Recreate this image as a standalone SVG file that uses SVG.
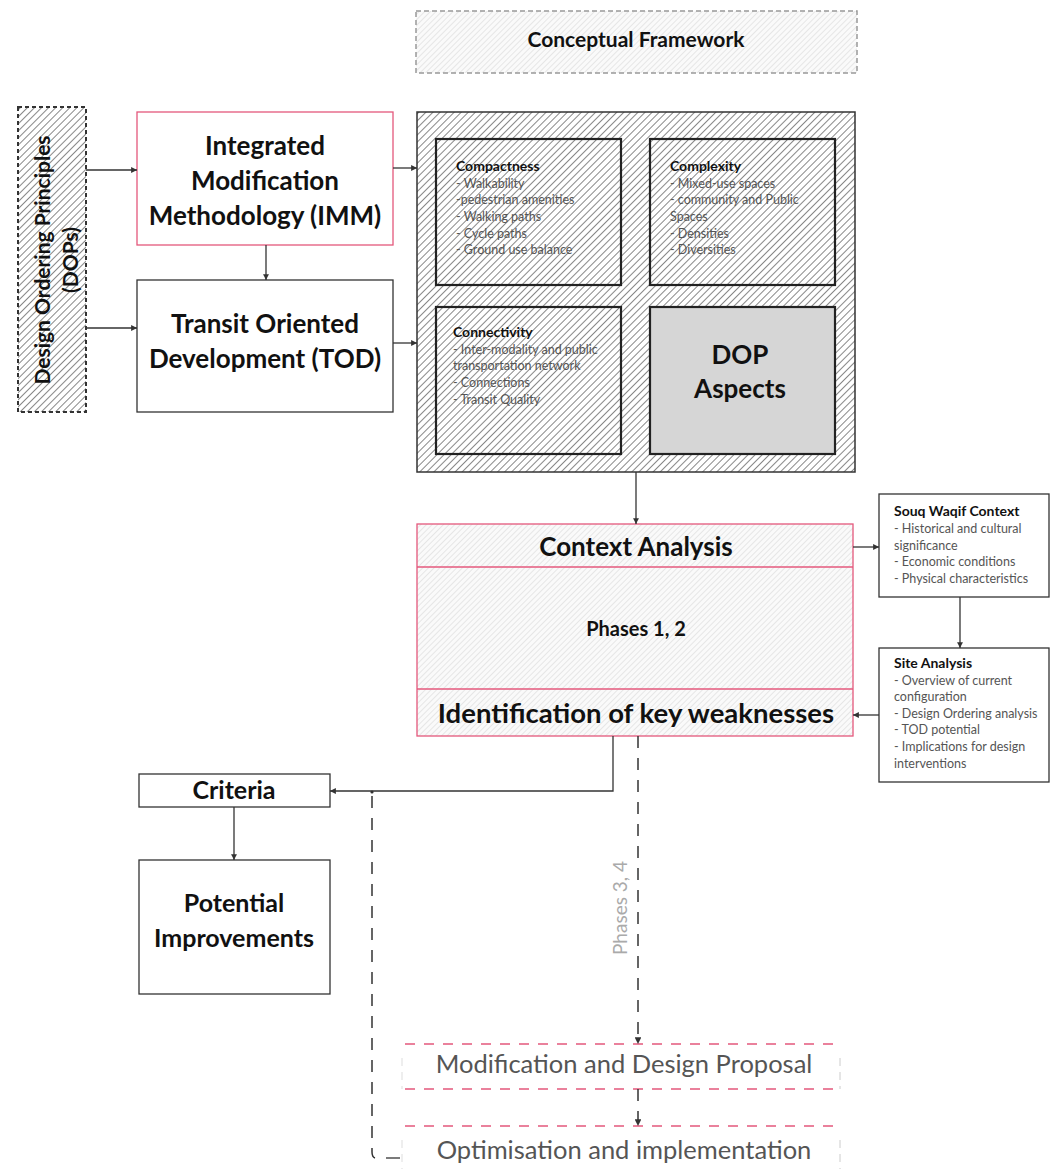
<svg xmlns="http://www.w3.org/2000/svg" width="1053" height="1169" viewBox="0 0 1053 1169">
<defs>
<pattern id="hatchDark" width="5" height="5" patternUnits="userSpaceOnUse" patternTransform="rotate(45)">
<rect width="5" height="5" fill="#fff"/>
<line x1="0" y1="0" x2="0" y2="5" stroke="#555" stroke-width="1.4"/>
</pattern>
<pattern id="hatchLight" width="4" height="4" patternUnits="userSpaceOnUse" patternTransform="rotate(45)">
<rect width="4" height="4" fill="#fafafa"/>
<line x1="0" y1="0" x2="0" y2="4" stroke="#d2d2d2" stroke-width="1"/>
</pattern>
<marker id="ah" viewBox="0 0 6 6" refX="6" refY="3" markerWidth="4.5" markerHeight="4.5" orient="auto">
<path d="M0,0 L6,3 L0,6 z" fill="#333"/>
</marker>
</defs>
<style>
.box{fill:#fff;stroke:#333;stroke-width:1.3}
.pink{fill:#fff;stroke:#e4587c;stroke-width:1.3}
.inner{fill:url(#hatchDark);stroke:#222;stroke-width:2.2}
.big{font-family:Lato,"Open Sans",sans-serif;font-weight:700;fill:#111;text-anchor:middle}
.ttl{font-family:Lato,"Open Sans",sans-serif;font-weight:700;fill:#111;font-size:14px}
.itm{font-family:Lato,"Open Sans",sans-serif;fill:#555;font-size:12.5px}
.con{fill:none;stroke:#333;stroke-width:1.3}
.dash{fill:none;stroke:#333;stroke-width:1.5;stroke-dasharray:12 10}
.gray{font-family:Lato,"Open Sans",sans-serif;fill:#555;font-size:25.5px;text-anchor:middle}
</style>
<rect width="1053" height="1169" fill="#fff"/>

<g id="conceptual-framework">
<rect x="416" y="11" width="441" height="62" fill="url(#hatchLight)" stroke="#999" stroke-width="1.5" stroke-dasharray="5 3"/>
<text class="big" x="636" y="47" font-size="21">Conceptual Framework</text>
</g>

<g id="dops">
<rect x="18" y="107" width="68" height="305" fill="url(#hatchDark)" stroke="#333" stroke-width="2" stroke-dasharray="4 3"/>
<text class="big" font-size="21" transform="translate(50,260) rotate(-90)">Design Ordering Principles</text>
<text class="big" font-size="21" transform="translate(78,260) rotate(-90)">(DOPs)</text>
</g>

<g id="imm">
<rect class="pink" x="137" y="112" width="256" height="133"/>
<text class="big" x="265" y="155" font-size="26">Integrated</text>
<text class="big" x="265" y="190" font-size="26">Modification</text>
<text class="big" x="265" y="225" font-size="26">Methodology (IMM)</text>
</g>

<g id="tod">
<rect class="box" x="137" y="280" width="256" height="132"/>
<text class="big" x="265" y="333" font-size="26">Transit Oriented</text>
<text class="big" x="265" y="368" font-size="26">Development (TOD)</text>
</g>

<g id="dop-aspects-frame">
<rect x="417" y="112" width="438" height="360" fill="url(#hatchDark)" stroke="#333" stroke-width="1.5"/>
</g>

<g id="compactness">
<rect class="inner" x="436" y="139" width="185" height="146"/>
<text class="ttl" x="456" y="171">Compactness</text>
<text class="itm" x="456" y="188">- Walkability</text>
<text class="itm" x="456" y="204">-pedestrian amenities</text>
<text class="itm" x="456" y="221">- Walking paths</text>
<text class="itm" x="456" y="238">- Cycle paths</text>
<text class="itm" x="456" y="254">- Ground use balance</text>
</g>

<g id="complexity">
<rect class="inner" x="650" y="139" width="185" height="146"/>
<text class="ttl" x="670" y="171">Complexity</text>
<text class="itm" x="670" y="188">- Mixed-use spaces</text>
<text class="itm" x="670" y="204">- community and Public</text>
<text class="itm" x="670" y="221">Spaces</text>
<text class="itm" x="670" y="238">- Densities</text>
<text class="itm" x="670" y="254">- Diversities</text>
</g>

<g id="connectivity">
<rect class="inner" x="436" y="307" width="185" height="147"/>
<text class="ttl" x="453" y="337">Connectivity</text>
<text class="itm" x="453" y="354">- Inter-modality and public</text>
<text class="itm" x="453" y="370">transportation network</text>
<text class="itm" x="453" y="387">- Connections</text>
<text class="itm" x="453" y="404">- Transit Quality</text>
</g>

<g id="dop-aspects">
<rect x="650" y="307" width="185" height="147" fill="#d6d6d6" stroke="#222" stroke-width="2.2"/>
<text class="big" x="740" y="364" font-size="26">DOP</text>
<text class="big" x="740" y="398" font-size="26">Aspects</text>
</g>

<g id="context-analysis">
<rect x="417" y="524" width="436" height="212" fill="url(#hatchLight)" stroke="#e4587c" stroke-width="1.3"/>
<line x1="417" y1="567" x2="853" y2="567" stroke="#e4587c" stroke-width="1.3"/>
<line x1="417" y1="689" x2="853" y2="689" stroke="#e4587c" stroke-width="1.3"/>
<text class="big" x="636" y="556" font-size="26">Context Analysis</text>
<text class="big" x="636" y="636" font-size="20">Phases 1, 2</text>
<text class="big" x="636" y="723" font-size="27.5">Identification of key weaknesses</text>
</g>

<g id="souq-waqif">
<rect class="box" x="879" y="494" width="170" height="103"/>
<text class="ttl" x="894" y="516" font-size="14.5">Souq Waqif Context</text>
<text class="itm" x="894" y="533">- Historical and cultural</text>
<text class="itm" x="894" y="550">significance</text>
<text class="itm" x="894" y="566">- Economic conditions</text>
<text class="itm" x="894" y="583">- Physical characteristics</text>
</g>

<g id="site-analysis">
<rect class="box" x="879" y="648" width="170" height="134"/>
<text class="ttl" x="894" y="668" font-size="14.5">Site Analysis</text>
<text class="itm" x="894" y="685">- Overview of current</text>
<text class="itm" x="894" y="701">configuration</text>
<text class="itm" x="894" y="718">- Design Ordering analysis</text>
<text class="itm" x="894" y="734">- TOD potential</text>
<text class="itm" x="894" y="751">- Implications for design</text>
<text class="itm" x="894" y="768">interventions</text>
</g>

<g id="criteria">
<rect class="box" x="139" y="774" width="191" height="33"/>
<text class="big" x="234" y="799" font-size="25">Criteria</text>
</g>

<g id="potential-improvements">
<rect class="box" x="139" y="860" width="191" height="134"/>
<text class="big" x="234" y="912" font-size="25">Potential</text>
<text class="big" x="234" y="947" font-size="25">Improvements</text>
</g>

<g id="modification">
<line x1="405" y1="1044" x2="840" y2="1044" stroke="#e4587c" stroke-width="1.3" stroke-dasharray="10 9"/>
<line x1="405" y1="1089" x2="840" y2="1089" stroke="#e4587c" stroke-width="1.3" stroke-dasharray="10 9"/>
<line x1="402" y1="1058" x2="402" y2="1089" stroke="#ddd" stroke-width="1" stroke-dasharray="8 6"/>
<line x1="840" y1="1058" x2="840" y2="1089" stroke="#ccc" stroke-width="1" stroke-dasharray="8 6"/>
<text class="gray" x="624" y="1073">Modification and Design Proposal</text>
</g>

<g id="optimisation">
<line x1="405" y1="1126" x2="840" y2="1126" stroke="#e4587c" stroke-width="1.3" stroke-dasharray="10 9"/>
<line x1="402" y1="1140" x2="402" y2="1169" stroke="#ddd" stroke-width="1" stroke-dasharray="8 6"/>
<line x1="840" y1="1140" x2="840" y2="1169" stroke="#ccc" stroke-width="1" stroke-dasharray="8 6"/>
<text class="gray" x="624" y="1159">Optimisation and implementation</text>
</g>

<g id="connectors">
<path class="con" d="M86,170 H137" marker-end="url(#ah)"/>
<path class="con" d="M86,328 H137" marker-end="url(#ah)"/>
<path class="con" d="M266,245 V280" marker-end="url(#ah)"/>
<path class="con" d="M393,168 H417" marker-end="url(#ah)"/>
<path class="con" d="M393,343 H417" marker-end="url(#ah)"/>
<path class="con" d="M636,472 V524" marker-end="url(#ah)"/>
<path class="con" d="M853,547 H879" marker-end="url(#ah)"/>
<path class="con" d="M960,597 V648" marker-end="url(#ah)"/>
<path class="con" d="M879,715 H853" marker-end="url(#ah)"/>
<path class="con" d="M613,736 V791 H330" marker-end="url(#ah)"/>
<path class="con" d="M234,807 V860" marker-end="url(#ah)"/>
<path class="dash" d="M638,736 V1044" marker-end="url(#ah)"/>
<path class="dash" d="M638,1089 V1126" stroke-dasharray="10 8" marker-end="url(#ah)"/>
<circle cx="372" cy="792" r="1.6" fill="#333"/>
<path class="dash" d="M372,796 V1152 Q372,1157 375,1158"/>
<path class="con" d="M386,1158 H400"/>
<text font-family="Lato,'Open Sans',sans-serif" font-size="19" fill="#aaa" text-anchor="middle" transform="translate(627,908) rotate(-90)">Phases 3, 4</text>
</g>
</svg>
